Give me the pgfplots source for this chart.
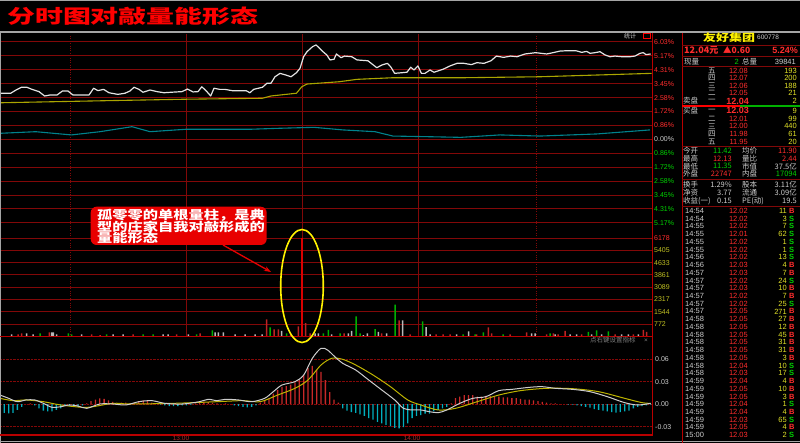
\documentclass[border=0pt]{standalone}
\usepackage{pgfplots}
\pgfplotsset{compat=1.18}
\usepackage{fontspec}
\usepackage{graphicx}
\usetikzlibrary{arrows.meta}
\setmainfont{Liberation Sans}
\newfontfamily\cjk{Noto Sans CJK SC}
\newcommand\fs[1]{\fontsize{#1}{#1}\selectfont}
\definecolor{gridred}{RGB}{130,8,8}
\definecolor{brred}{RGB}{185,0,0}
\definecolor{tred}{RGB}{255,45,45}
\definecolor{tgreen}{RGB}{0,210,0}
\definecolor{tyel}{RGB}{225,225,40}
\definecolor{tgray}{RGB}{205,205,205}
\definecolor{volred}{RGB}{190,35,35}
\definecolor{volgreen}{RGB}{0,175,0}
\definecolor{volgray}{RGB}{185,185,185}
\definecolor{pwhite}{RGB}{228,228,228}
\definecolor{pyel}{RGB}{170,165,0}
\definecolor{pcyan}{RGB}{0,130,140}
\definecolor{mcyan}{RGB}{0,175,190}
\definecolor{mred}{RGB}{200,40,40}
\definecolor{mwhite}{RGB}{205,205,205}
\definecolor{myel}{RGB}{190,180,0}
\definecolor{edge}{RGB}{165,165,165}
\definecolor{boxred}{RGB}{232,0,0}
\definecolor{tlab}{RGB}{175,40,40}

\pgfplotsset{panel/.style={scale only axis, anchor=north west, width=652pt,
  axis line style={draw=none}, tick style={draw=none},
  xticklabels={}, yticklabels={}, clip=true}}

\begin{document}
\begin{tikzpicture}
\fill[black] (0pt,0pt) rectangle (800pt,-443pt);

% ---------- price panel ----------
\begin{axis}[panel, at={(0pt,-34pt)}, height=204pt,
  xmin=0, xmax=652, ymin=-6.108, ymax=6.516,
  xtick={186,302,418},
  ytick={-5.17,-4.31,-3.45,-2.58,-1.72,-0.86,0.86,1.72,2.58,3.45,4.31,5.17,6.03},
  grid=major, major grid style={gridred, line width=0.9pt},
  extra x ticks={70,536}, extra x tick labels={},
  extra x tick style={grid style={gridred, dotted, line width=0.6pt}},
  extra y ticks={0}, extra y tick labels={},
  extra y tick style={grid style={brred, line width=1.8pt}}]
\addplot[pcyan, line width=1.1pt] coordinates {
(0,0.37) (35.7,0.47) (71.4,0.27) (100,0.47) (132,0.78) (150,0.47) (185.7,0.62)
(250,0.62) (278.6,0.68) (314,0.74) (342.9,0.58) (375,0.47) (392.9,0.20)
(428.6,0.16) (460.7,0.12) (500,0.27) (540,0.20) (596.7,0.33) (650,0.58)};
\addplot[pyel, line width=1.1pt] coordinates {
(0,2.26) (107,2.39) (185.7,2.48) (262.5,2.54) (271,2.68) (296.4,2.85)
(301.8,3.25) (307,3.42) (339,3.56) (357,3.71) (393,3.81) (464,3.81)
(540,3.87) (651.7,4.08)};
\addplot[pwhite, line width=1.2pt, line join=round] coordinates {
(0,2.85) (10.7,2.85) (16,3.05) (21.4,3.22) (26.8,3.22) (32,3.09) (39,2.95)
(44.6,2.68) (50,2.74) (57,2.74) (62.5,2.99) (67.9,2.99) (73,2.74) (89,2.74)
(93.6,3.16) (98,3.01) (103.6,3.09) (109,2.88) (117.8,2.78) (125,2.85)
(130,2.99) (134,3.22) (139,3.09) (143,2.91) (150,3.05) (157,2.95) (164,2.88)
(171,2.91) (182,2.95) (187.5,3.11) (193,2.93) (198,2.95) (201.8,3.25)
(206,3.01) (210.7,2.68) (214,3.16) (219.6,3.09) (225,3.09) (232,3.01)
(246,3.01) (250,2.88) (253.6,3.09) (262.5,3.22) (267,3.47) (271,3.47)
(275,3.87) (280,4.08) (285.7,3.98) (291,3.87) (296.4,4.12) (300,4.39)
(303.6,5.11) (307,5.42) (312.5,5.73) (316,5.84) (319.6,5.63) (323,5.42)
(326.8,5.22) (330,4.91) (334,4.95) (336.4,5.28) (341,5.05) (344.6,5.15)
(351.8,5.11) (357,4.91) (367.9,4.86) (376.8,4.43) (382,4.60) (387.5,4.70)
(391,4.46) (394.6,4.08) (401.8,4.12) (407,4.15) (410.7,4.46) (414,4.29)
(417.9,4.54) (421.4,4.08) (425,4.08) (430,4.29) (434,4.15) (442.9,4.33)
(450,4.54) (457,4.70) (464,4.70) (471.4,4.62) (476.8,4.74) (484,4.70)
(491,4.86) (496.4,5.15) (503.6,5.07) (510.7,5.15) (517,5.11) (525,5.28)
(535.7,5.36) (546.7,5.28) (553,5.36) (560,5.46) (566.7,5.48) (576,5.48)
(581.7,5.38) (586.7,5.44) (590,5.32) (595,5.36) (600,5.42) (605,5.22)
(610,5.11) (615,5.15) (621.7,5.11) (630,5.11) (635,5.15) (640,5.32)
(643.3,5.36) (646,5.24) (650.7,5.28)};
\end{axis}

% ---------- volume panel ----------
\begin{axis}[panel, at={(0pt,-238pt)}, height=98.5pt,
  xmin=0, xmax=652, ymin=0, ymax=6178,
  xtick={186,302,418},
  ytick={772,1544,2317,3089,3861,4633,5405},
  grid=major, major grid style={gridred, line width=0.9pt},
  extra x ticks={70,536}, extra x tick labels={},
  extra x tick style={grid style={gridred, dotted, line width=0.6pt}},
  extra y ticks={6178}, extra y tick labels={},
  extra y tick style={grid style={brred, line width=1.8pt}}]
\addplot[ybar, bar width=1.5, bar shift=0pt, fill=volgray, draw=none] coordinates {
(11.7,126) (26.7,189) (33,126) (51.7,252) (53.3,252) (56.7,126) (81.7,126)
(113,126) (123,126) (163,126) (168,126) (188.3,126) (215,252) (218.3,252)
(223.3,252) (235,126) (245,126) (255,126) (262,126) (281.7,358) (315,189)
(318.3,189) (331.7,126) (348.3,189) (351.7,358) (363.3,94) (367.3,189)
(378.3,283) (386.7,189) (402.7,1006) (426,585) (430,126) (456.7,126)
(468.7,315) (531.7,189) (535,189) (555,126) (570,126) (576.7,126)
(591.7,126) (601.7,126) (621.7,126) (628.3,126) (638.3,126)};
\addplot[ybar, bar width=1.5, bar shift=0pt, fill=volgreen, draw=none] coordinates {
(40,189) (68.3,189) (71.7,126) (106.7,126) (143,126) (153,126) (196.7,126)
(212.3,377) (270,566) (286.7,189) (323.3,189) (328.3,420) (340,189)
(356,1258) (360,189) (375,460) (395,1994) (422.7,944) (463,126) (475,126)
(483.3,252) (503,126) (550,189) (588.3,283) (596.7,377) (608.3,315)};
\addplot[ybar, bar width=1.5, bar shift=0pt, fill=volred, draw=none] coordinates {
(18,126) (21.7,189) (49.3,252) (91.7,126) (100,94) (133,126) (176.7,126)
(200,189) (266.7,1070) (274,440) (278.3,440) (290.7,126) (298.3,629)
(305.7,837) (310,189) (344,189) (381.7,189) (399,1006) (410,126) (436,126)
(443,126) (450,126) (476.7,126) (488.3,566) (491.7,189) (510,126)
(526.7,252) (546.7,126) (553.3,189) (558,126) (565,346) (581.7,126)
(615,126) (633.3,126) (643.3,420) (646.7,283)};
\addplot[ybar, bar width=1.6, bar shift=0pt, fill=red!85!black, draw=none] coordinates {(302,6178)};
\end{axis}

% ---------- MACD panel ----------
\begin{axis}[panel, at={(0pt,-337pt)}, height=98pt,
  xmin=0, xmax=1503, ymin=-0.0415, ymax=0.0897,
  xtick=\empty, ytick={-0.03,0,0.03,0.06},
  ymajorgrids, major grid style={gridred, densely dotted, line width=0.7pt}]
\addplot[ybar, bar width=3, bar shift=0pt, fill=mred, draw=none,
  restrict y to domain=0:1] table {
x v
60 0.000
70 0.001
200 0.001
210 0.004
220 0.006
230 0.0076
240 0.007
250 0.005
260 0.003
270 0.001
280 0.002
290 0.002
300 0.001
310 0.002
320 0.004
330 0.005
340 0.004
350 0.002
450 0.001
460 0.002
470 0.003
480 0.003
490 0.002
500 0.001
520 0.001
600 0.002
610 0.005
620 0.008
630 0.014
640 0.019
650 0.023
660 0.024
670 0.026
680 0.029
690 0.032
700 0.039
710 0.048
720 0.051
730 0.046
740 0.043
750 0.032
760 0.016
770 0.006
780 0.002
1040 0.001
1050 0.008
1060 0.010
1070 0.012
1080 0.012
1090 0.012
1100 0.010
1110 0.010
1120 0.011
1130 0.011
1140 0.010
1150 0.010
1160 0.009
1170 0.009
1180 0.008
1190 0.008
1200 0.007
1210 0.006
1220 0.006
1230 0.005
1240 0.004
1250 0.003
1260 0.002
1270 0.001
1280 0.001
};
\addplot[ybar, bar width=3, bar shift=0pt, fill=mcyan, draw=none,
  restrict y to domain=-1:0] table {
x v
0 -0.010
10 -0.012
20 -0.0125
30 -0.012
40 -0.008
50 -0.004
80 -0.002
90 -0.006
100 -0.009
110 -0.010
120 -0.010
130 -0.008
140 -0.006
150 -0.002
160 -0.003
170 -0.004
180 -0.004
190 -0.002
370 -0.001
380 -0.002
390 -0.003
400 -0.003
410 -0.003
420 -0.002
430 -0.002
440 -0.001
540 -0.002
550 -0.003
560 -0.004
570 -0.0045
580 -0.004
590 -0.002
790 -0.006
800 -0.009
810 -0.011
820 -0.012
830 -0.014
840 -0.016
850 -0.019
860 -0.021
870 -0.024
880 -0.026
890 -0.028
900 -0.030
910 -0.032
920 -0.0326
930 -0.031
940 -0.026
950 -0.019
960 -0.016
970 -0.015
980 -0.013
990 -0.013
1000 -0.010
1010 -0.008
1020 -0.006
1030 -0.004
1310 -0.001
1320 -0.001
1330 -0.002
1340 -0.003
1350 -0.004
1360 -0.005
1370 -0.007
1380 -0.008
1390 -0.009
1400 -0.010
1410 -0.011
1420 -0.0116
1430 -0.011
1440 -0.010
1450 -0.009
1460 -0.006
1470 -0.004
1480 -0.003
1490 -0.002
1500 -0.001
};
\addplot[myel, line width=1pt, smooth] coordinates {
(0,0.0076) (30,0.0045) (60,0.0054) (100,0.0031) (140,-0.0013) (200,-0.0045)
(260,0.0009) (300,0) (400,0.0009) (500,0.0031) (560,0.0045) (600,0.0031)
(640,0.012) (680,0.021) (710,0.0321) (740,0.0522) (765,0.0612) (790,0.0598)
(820,0.0522) (860,0.0388) (900,0.0232) (940,0.0054) (970,-0.0013)
(1010,-0.008) (1050,-0.0058) (1100,0.0031) (1150,0.012) (1200,0.0179)
(1260,0.021) (1320,0.0205) (1380,0.0165) (1440,0.0076) (1480,0.0018)
(1500,0.0009)};
\addplot[mwhite, line width=1pt, smooth] coordinates {
(0,0.012) (20,0.0076) (40,0.0031) (60,0.0054) (80,0.0054) (100,0.0009)
(120,-0.0045) (140,-0.0036) (160,-0.0013) (180,-0.0027) (200,-0.0058)
(230,0) (260,0) (290,-0.0013) (320,0.0031) (350,0.0045) (380,0.0009)
(420,0) (460,0.0031) (480,0.0063) (500,0.0045) (520,0.0063) (550,0.0054)
(580,0.0031) (610,0.0076) (630,0.0165) (650,0.0254) (680,0.0299)
(700,0.0388) (720,0.0612) (740,0.0746) (755,0.0723) (770,0.0643)
(790,0.0545) (820,0.0455) (850,0.0321) (880,0.0188) (910,0.0054)
(930,-0.0058) (950,-0.008) (970,-0.008) (990,-0.0103) (1010,-0.0116)
(1030,-0.008) (1060,0.0009) (1090,0.0076) (1120,0.0098) (1150,0.0179)
(1180,0.0196) (1220,0.0223) (1250,0.0232) (1280,0.021) (1320,0.0196)
(1360,0.0165) (1400,0.0098) (1440,0.0018) (1470,-0.0013) (1500,0.0009)};
\end{axis}

\begin{scope}[x=1pt,y=1pt]
% ---------- frame lines ----------
\draw[edge, line width=1pt] (0,-0.5) -- (800,-0.5);
\draw[edge, line width=1.6pt] (0,-32) -- (800,-32);
\draw[edge, line width=1pt] (0,-441.8) -- (800,-441.8);
\draw[edge, line width=0.8pt] (0.5,-32) -- (0.5,-443);
\draw[brred, line width=1pt] (652,-33) -- (652,-436);
\draw[brred, line width=1.5pt] (0,-336.6) -- (652,-336.6);
\draw[brred, line width=1.2pt] (0,-435) -- (652,-435);
\draw[brred, line width=1pt] (682,-33) -- (682,-443);
\foreach \yy in {45,56.7,66.7,146,179,206}
  \draw[gridred, line width=0.9pt] (682,-\yy) -- (800,-\yy);
\draw[red, line width=1.6pt] (682,-106) -- (740,-106);
\draw[green!70!black, line width=1.6pt] (740,-106) -- (800,-106);

% ---------- title ----------
\node[anchor=west, inner sep=0, text=red] at (7,-16.7)
  {\scalebox{1.47}[1]{\cjk\bfseries\fs{19}分时图对敲量能形态}};

% ---------- axis labels ----------
\tikzset{al/.style={anchor=west, inner sep=0, font=\fs{7}}}
\foreach \v/\yy in {6.03\%/42,5.17\%/55.9,4.31\%/69.8,3.45\%/83.7,2.58\%/97.6,1.72\%/111.4,0.86\%/125.4}
  \node[al, text=tred] at (654,-\yy) {\v};
\node[al, text=tgray] at (654,-139.3) {0.00\%};
\foreach \v/\yy in {0.86\%/153.2,1.72\%/167.1,2.58\%/181,3.45\%/195,4.31\%/208.9,5.17\%/222.8}
  \node[al, text=tgreen] at (654,-\yy) {\v};
\node[al, text=tred] at (654,-238.3) {6178};
\foreach \v/\yy in {5405/250.5,4633/262.8,3861/275,3089/287.3,2317/299.5,1544/311.8,772/324}
  \node[al, text=tyel!85!black] at (654,-\yy) {\v};
\foreach \v/\yy in {0.06/359.3,0.03/381.7,0.00/404,-0.03/426.7}
  \node[al, text=tgray] at (655,-\yy) {\v};
\node[inner sep=0, text=tlab, font=\fs{6.5}] at (181,-438.6) {13:00};
\node[inner sep=0, text=tlab, font=\fs{6.5}] at (412,-438.6) {14:00};
\node[anchor=west, inner sep=0, text=gray, font=\cjk\fs{6.5}] at (590,-340.5) {点右键设置指标};
\node[inner sep=0, text=gray, font=\fs{6.5}] at (646,-340.5) {×};
\node[anchor=west, inner sep=0, text=tgray, font=\cjk\fs{6}] at (624,-36) {统计};
\draw[red, line width=0.6pt] (643,-33.5) rectangle (650,-38.5);

% ---------- annotation ----------
\fill[boxred, rounded corners=6pt] (90.7,-206.7) rectangle (266.7,-245);
\node[anchor=west, inner sep=0, text=white] at (97,-215)
  {\scalebox{1.27}[1]{\cjk\bfseries\fs{12}孤零零的单根量柱，是典}};
\node[anchor=west, inner sep=0, text=white] at (97,-226.7)
  {\scalebox{1.27}[1]{\cjk\bfseries\fs{12}型的庄家自我对敲形成的}};
\node[anchor=west, inner sep=0, text=white] at (97,-238.3)
  {\scalebox{1.27}[1]{\cjk\bfseries\fs{12}量能形态}};
\draw[boxred, line width=1.3pt, -{Stealth[length=7pt,width=5pt]}] (223,-245) -- (271,-272);
\draw[yellow, line width=1.6pt] (302,-286) ellipse [x radius=21.3pt, y radius=56.5pt];

% ---------- info panel ----------
\tikzset{lb/.style={anchor=west, inner sep=0, text=tgray, font=\cjk\fs{7.5}},
         nm/.style={anchor=east, inner sep=0, font=\fs{7.5}}}
\node[anchor=west, inner sep=0, text=yellow] at (703,-37.5)
  {\scalebox{1.3}[1]{\cjk\bfseries\fs{10}友好集团}};
\node[anchor=west, inner sep=0, text=tgray, font=\fs{6.5}] at (757,-37.5) {600778};
\node[anchor=west, inner sep=0, text=tred, font=\cjk\bfseries\fs{9}] at (684,-50.5) {12.04元};
\node[anchor=west, inner sep=0, text=tred, font=\cjk\bfseries\fs{8.5}] at (723,-50.5) {▲0.60};
\node[anchor=east, inner sep=0, text=tred, font=\bfseries\fs{9}] at (798,-50.5) {5.24\%};
\node[lb] at (684,-61.7) {现量};
\node[nm, text=tgreen] at (739,-61.7) {2};
\node[lb] at (742,-61.7) {总量};
\node[nm, text=tgray] at (796,-61.7) {39841};
\foreach \k/\p/\q/\yy in {五/12.08/193/71,四/12.07/200/78,三/12.06/188/85.5,二/12.05/21/93,五/11.95/20/141.7,四/11.98/61/134.2,三/12.00/440/126.3,二/12.01/99/118.5}{
  \node[lb] at (708,-\yy) {\k};
  \node[nm, text=tred] at (748,-\yy) {\p};
  \node[nm, text=tyel] at (797,-\yy) {\q};}
\node[lb] at (683,-101) {卖盘};
\node[lb] at (708,-101) {一};
\node[nm, text=tred, font=\bfseries\fs{9}] at (749,-101) {12.04};
\node[nm, text=tyel] at (797,-101) {2};
\node[lb] at (683,-110.8) {买盘};
\node[lb] at (708,-110.8) {一};
\node[nm, text=tred, font=\bfseries\fs{9}] at (749,-110.8) {12.03};
\node[nm, text=tyel] at (797,-110.8) {9};
\foreach \la/\va/\ca/\lb/\vb/\cb/\yy in {今开/11.42/tgreen/均价/11.90/tred/151,最高/12.13/tred/量比/2.44/tred/158.6,最低/11.35/tgreen/市值/37.5亿/tgray/166.2,外盘/22747/tred/内盘/17094/tgreen/173.8,换手/1.29\%/tgray/股本/3.11亿/tgray/185,净资/3.77/tgray/流通/3.09亿/tgray/193,收益(一)/0.15/tgray/PE(动)/19.5/tgray/201}{
  \node[lb] at (683,-\yy) {\la};
  \node[nm, text=\ca, font=\cjk\fs{7.5}] at (732,-\yy) {\va};
  \node[lb] at (742,-\yy) {\lb};
  \node[nm, text=\cb, font=\cjk\fs{7.5}] at (797,-\yy) {\vb};}
\foreach \t/\p/\v/\b/\c [count=\i] in {
14:54/12.02/11/B/tred, 14:54/12.02/3/S/tgreen, 14:55/12.02/7/S/tgreen,
14:55/12.01/62/S/tgreen, 14:55/12.02/1/S/tgreen, 14:55/12.02/1/S/tgreen,
14:56/12.02/13/S/tgreen, 14:56/12.03/4/B/tred, 14:57/12.03/7/B/tred,
14:57/12.02/24/S/tgreen, 14:57/12.03/10/B/tred, 14:57/12.02/7/B/tred,
14:57/12.02/25/S/tgreen, 14:57/12.05/271/B/tred, 14:58/12.05/27/B/tred,
14:58/12.05/12/B/tred, 14:58/12.05/45/B/tred, 14:58/12.05/31/B/tred,
14:58/12.05/31/B/tred, 14:58/12.05/3/B/tred, 14:58/12.04/10/S/tgreen,
14:58/12.03/17/S/tgreen, 14:59/12.04/4/B/tred, 14:59/12.05/10/B/tred,
14:59/12.05/3/B/tred, 14:59/12.04/1/S/tgreen, 14:59/12.04/4/B/tred,
14:59/12.03/65/S/tgreen, 14:59/12.05/4/B/tred, 15:00/12.03/2/S/tgreen}{
  \pgfmathsetmacro\yy{-(210.9+7.73*(\i-1))}
  \node[anchor=west, inner sep=0, text=tgray, font=\fs{7.5}] at (685,\yy) {\t};
  \node[nm, text=tred] at (748,\yy) {\p};
  \node[nm, text=tyel] at (787,\yy) {\v};
  \node[anchor=west, inner sep=0, text=\c, font=\bfseries\fs{7.5}] at (789,\yy) {\b};}
\end{scope}

\pgfresetboundingbox
\path[use as bounding box] (0pt,0pt) rectangle (800pt,-443pt);
\end{tikzpicture}
\end{document}
